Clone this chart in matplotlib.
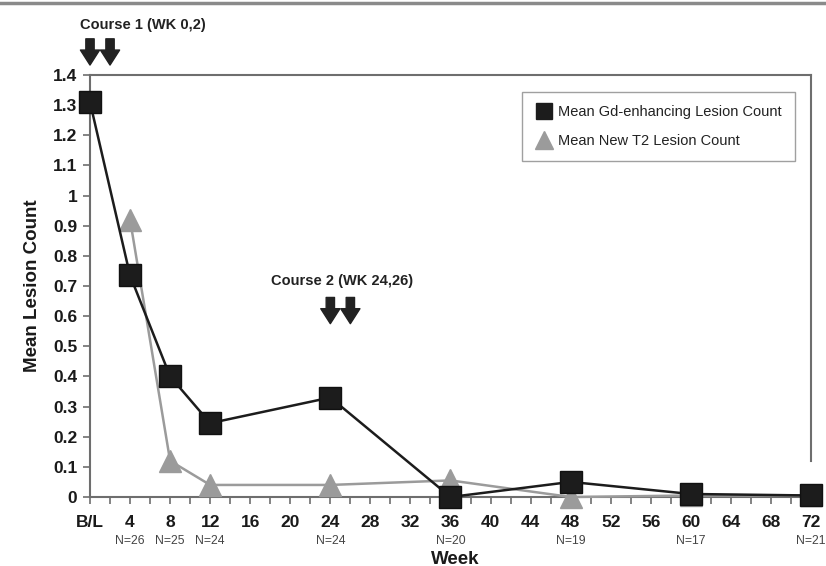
import matplotlib
matplotlib.use("Agg")
import matplotlib.pyplot as plt
from matplotlib.lines import Line2D

plt.rcParams['font.family'] = ['Liberation Sans', 'DejaVu Sans']

weeks_gd = [0, 4, 8, 12, 24, 36, 48, 60, 72]
gd_counts = [1.31, 0.735, 0.40, 0.245, 0.33, 0.0, 0.05, 0.01, 0.005]
weeks_t2 = [4, 8, 12, 24, 36, 48, 60, 72]
t2_counts = [0.92, 0.12, 0.04, 0.04, 0.055, 0.0, 0.005, 0.005]
n_weeks = [4, 8, 12, 24, 36, 48, 60, 72]
n_labels = ['N=26', 'N=25', 'N=24', 'N=24', 'N=20', 'N=19', 'N=17', 'N=21']
x_tick_pos = list(range(0, 73, 4))
x_tick_labels = ['B/L'] + [str(w) for w in range(4, 73, 4)]
y_tick_pos = [i / 10 for i in range(15)]
y_tick_labels = ['0', '0.1', '0.2', '0.3', '0.4', '0.5', '0.6', '0.7', '0.8', '0.9',
                 '1', '1.1', '1.2', '1.3', '1.4']
course1_weeks = [0, 2]
course2_weeks = [24, 26]

fig = plt.figure(figsize=(8.26, 5.66), dpi=100)
ax = fig.add_axes([90/826, 1-497/566, (811-90)/826, (497-75)/566])

spine_col = '#6e6e6e'
ax.plot(weeks_t2, t2_counts, color='#9b9b9b', lw=1.8, marker='^', ms=16,
        mec='#9b9b9b', mfc='#9b9b9b', clip_on=False, zorder=3,
        label='Mean New T2 Lesion Count')
ax.plot(weeks_gd, gd_counts, color='#1c1c1c', lw=1.8, marker='s', ms=15.5,
        mec='#111111', mfc='#1c1c1c', clip_on=False, zorder=4,
        label='Mean Gd-enhancing Lesion Count')

ax.set_xlim(0, 72)
ax.set_ylim(0, 1.4)
ax.set_xticks(x_tick_pos)
ax.set_xticklabels(x_tick_labels, fontsize=12.5, fontweight='bold', color='#1a1a1a')
ax.set_xticks(list(range(0, 73, 2)), minor=True)
ax.set_yticks(y_tick_pos)
ax.set_yticklabels(y_tick_labels, fontsize=12.5, fontweight='bold', color='#1a1a1a')
ax.tick_params(axis='x', which='both', direction='out', length=5, width=1.2,
               color=spine_col, pad=8)
ax.tick_params(axis='y', direction='out', length=5, width=1.2, color=spine_col, pad=4)

for s in ['left', 'top', 'right', 'bottom']:
    ax.spines[s].set_color(spine_col)
    ax.spines[s].set_linewidth(1.5)
ax.spines['right'].set_bounds(0.12, 1.4)

ax.set_ylabel('Mean Lesion Count', fontsize=13.5, fontweight='bold', color='#1a1a1a',
              labelpad=9)
ax.set_xlabel('Week', fontsize=13.5, fontweight='bold', color='#1a1a1a')
ax.xaxis.set_label_coords((455-90)/(811-90), -(559-497)/(497-75))
ax.xaxis.label.set_va('center')

for w, lab in zip(n_weeks, n_labels):
    ax.text(w, -(541-497)/301.4, lab, ha='center', va='center', fontsize=8.8,
            color='#444444', clip_on=False)

leg_handles = [Line2D([], [], ls='none', marker='s', ms=12, color='#1c1c1c'),
               Line2D([], [], ls='none', marker='^', ms=13, color='#9b9b9b')]
leg = ax.legend(leg_handles, ['Mean Gd-enhancing Lesion Count', 'Mean New T2 Lesion Count'],
                loc='upper right', bbox_to_anchor=((795-90)/(811-90), 1-(92-75)/(497-75)),
                fontsize=10.5, frameon=True, fancybox=False, edgecolor='#888888',
                handletextpad=0.3, handlelength=1.3, labelspacing=1.0,
                borderpad=0.9, borderaxespad=0)
leg.get_frame().set_linewidth(1.0)
for t in leg.get_texts():
    t.set_color('#222222')

arrow_props = dict(arrowstyle='simple,head_length=0.9,head_width=1.15,tail_width=0.5',
                   color='#222222', mutation_scale=12, shrinkA=0, shrinkB=0)
for w in course1_weeks:
    ax.annotate('', xy=(w, 1.433), xytext=(w, 1.52), arrowprops=arrow_props,
                annotation_clip=False)
for w in course2_weeks:
    ax.annotate('', xy=(w, 0.575), xytext=(w, 0.662), arrowprops=arrow_props,
                annotation_clip=False)

ax.text(-1.0, 1.565, 'Course 1 (WK 0,2)', fontsize=10.5, fontweight='bold',
        color='#222222', ha='left', va='center', clip_on=False)
ax.text(25.2, 0.715, 'Course 2 (WK 24,26)', fontsize=10.5, fontweight='bold',
        color='#222222', ha='center', va='center', clip_on=False)

fig.add_artist(Line2D([0, 1], [1-3/566, 1-3/566], color='#8a8a8a', lw=2.5,
                      transform=fig.transFigure))

fig.savefig('out.png', dpi=100)
